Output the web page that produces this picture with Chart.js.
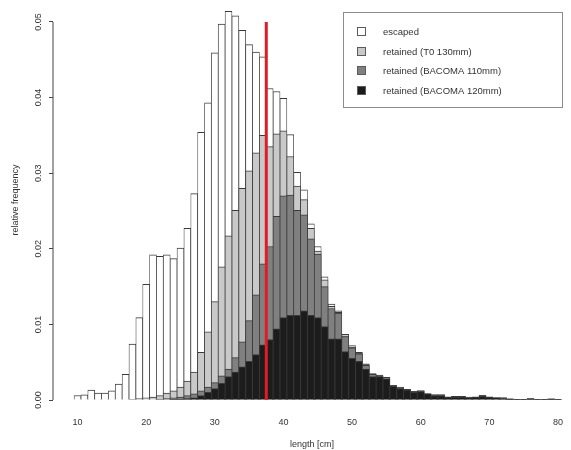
<!DOCTYPE html>
<html>
<head>
<meta charset="utf-8">
<title>length distribution</title>
<script src="https://cdn.jsdelivr.net/npm/chart.js@4.4.1/dist/chart.umd.min.js"></script>
<style>
    body { margin: 0; background: #ffffff; }
    #grafico { display: block; }
</style>
</head>
<body>
<canvas id="grafico" width="571" height="450"></canvas>
<script>
// classi di lunghezza (cm), una barra per classe
var lunghezze = [10, 11, 12, 13, 14, 15, 16, 17, 18, 19,
    20, 21, 22, 23, 24, 25, 26, 27, 28, 29,
    30, 31, 32, 33, 34, 35, 36, 37, 38, 39,
    40, 41, 42, 43, 44, 45, 46, 47, 48, 49,
    50, 51, 52, 53, 54, 55, 56, 57, 58, 59,
    60, 61, 62, 63, 64, 65, 66, 67, 68, 69,
    70, 71, 72, 73, 74, 75, 76, 77, 78, 79, 80];

var escaped = [0.0006, 0.0007, 0.0013, 0.0009, 0.0009, 0.0012, 0.0021, 0.0034, 0.0074, 0.0109,
    0.0153, 0.0192, 0.0190, 0.0192, 0.0187, 0.0201, 0.0227, 0.0273, 0.0354, 0.0393,
    0.0459, 0.0497, 0.0514, 0.0508, 0.0489, 0.0470, 0.0460, 0.0454, 0.0412, 0.0408,
    0.0399, 0.0351, 0.0301, 0.0278, 0.0233, 0.0203, 0.0163, 0.0127, 0.0118, 0.0087,
    0.0072, 0.0063, 0.0048, 0.0035, 0.0033, 0.0030, 0.0019, 0.0017, 0.0014, 0.0011,
    0.0012, 0.0008, 0.0007, 0.0007, 0.0004, 0.0005, 0.0005, 0.0004, 0.0004, 0.0006,
    0.0004, 0.0003, 0.0003, 0.0002, 0.0001, 0.0001, 0.0002, 0.0001, 0.0001, 0.0002, 0.0001];

var retainedT0 = [0, 0, 0, 0, 0, 0, 0, 0, 0.0001, 0.0002,
    0.0003, 0.0004, 0.0006, 0.0009, 0.0012, 0.0017, 0.0025, 0.0037, 0.0063, 0.0090,
    0.0130, 0.0176, 0.0217, 0.0251, 0.0280, 0.0303, 0.0327, 0.0350, 0.0335, 0.0352,
    0.0356, 0.0322, 0.0283, 0.0265, 0.0227, 0.0197, 0.0159, 0.0124, 0.0116, 0.0085,
    0.0070, 0.0062, 0.0047, 0.0034, 0.0032, 0.0030, 0.0019, 0.0016, 0.0014, 0.0011,
    0.0012, 0.0008, 0.0007, 0.0007, 0.0004, 0.0005, 0.0005, 0.0003, 0.0004, 0.0006,
    0.0004, 0.0003, 0.0003, 0.0001, 0.0001, 0.0001, 0.0002, 0.0001, 0.0001, 0.0001, 0.0001];

var retainedB110 = [0, 0, 0, 0, 0, 0, 0, 0, 0, 0,
    0, 0, 0.0001, 0.0002, 0.0003, 0.0004, 0.0006, 0.0008, 0.0012, 0.0017,
    0.0023, 0.0032, 0.0041, 0.0056, 0.0077, 0.0105, 0.0139, 0.0180, 0.0203, 0.0243,
    0.0270, 0.0271, 0.0251, 0.0245, 0.0213, 0.0193, 0.0150, 0.0121, 0.0115, 0.0084,
    0.0069, 0.0061, 0.0046, 0.0034, 0.0032, 0.0030, 0.0019, 0.0016, 0.0014, 0.0011,
    0.0012, 0.0008, 0.0007, 0.0007, 0.0004, 0.0005, 0.0005, 0.0003, 0.0004, 0.0006,
    0.0004, 0.0003, 0.0003, 0.0001, 0.0001, 0.0001, 0.0002, 0.0001, 0.0001, 0.0001, 0.0001];

var retainedB120 = [0, 0, 0, 0, 0, 0, 0, 0, 0, 0,
    0, 0, 0, 0, 0.0001, 0.0001, 0.0002, 0.0003, 0.0006, 0.0010,
    0.0015, 0.0022, 0.0031, 0.0037, 0.0044, 0.0051, 0.0060, 0.0073, 0.0080, 0.0094,
    0.0109, 0.0112, 0.0112, 0.0118, 0.0112, 0.0109, 0.0097, 0.0081, 0.0081, 0.0064,
    0.0055, 0.0051, 0.0041, 0.0031, 0.0031, 0.0028, 0.0018, 0.0015, 0.0013, 0.0010,
    0.0011, 0.0008, 0.0006, 0.0006, 0.0004, 0.0004, 0.0004, 0.0003, 0.0004, 0.0005,
    0.0004, 0.0003, 0.0002, 0.0001, 0.0001, 0.0001, 0.0001, 0.0001, 0.0001, 0.0001, 0.0001];

// linea rossa (taglia di riferimento)
var soglia = 37.5;
var sogliaAltezza = [0, 0.05];

var xTicks = [10, 20, 30, 40, 50, 60, 70, 80];
var yTicks = [0, 0.01, 0.02, 0.03, 0.04, 0.05];

function punti(valori) {
    var out = [];
    for (var i = 0; i < lunghezze.length; i++) {
        out.push({ x: lunghezze[i], y: valori[i] });
    }
    return out;
}

var bordo = { top: 1, left: 0.75, right: 0.75, bottom: 0 };

function serie(nome, valori, colore, ordine) {
    return {
        label: nome,
        data: punti(valori),
        backgroundColor: colore,
        borderColor: '#3a3a3a',
        borderWidth: bordo,
        borderSkipped: false,
        grouped: false,
        barPercentage: 1,
        categoryPercentage: 1,
        order: ordine
    };
}

// legenda in alto a destra dentro il grafico
var legendaBox = {
    id: 'legendaBox',
    afterDraw: function (chart) {
        var ctx = chart.ctx;
        ctx.save();
        ctx.strokeStyle = '#8c8c8c';
        ctx.lineWidth = 1;
        ctx.strokeRect(343.5, 12.5, 219, 95);
        ctx.font = '9.5px "Liberation Sans", Arial, sans-serif';
        ctx.textBaseline = 'middle';
        var barre = chart.data.datasets.filter(function (d) { return d.type !== 'line'; });
        for (var i = 0; i < barre.length; i++) {
            var y = Math.round(32 + i * 19.5);
            ctx.fillStyle = barre[i].backgroundColor;
            ctx.fillRect(357.5, y - 4.5, 8, 8);
            ctx.strokeStyle = '#5a5a5a';
            ctx.strokeRect(357.5, y - 4.5, 8, 8);
            ctx.fillStyle = '#333333';
            ctx.fillText(barre[i].label, 383, y);
        }
        ctx.restore();
    }
};

// asse y solo tra la prima e l'ultima tacca, come in R
var asseY = {
    id: 'asseY',
    afterDraw: function (chart) {
        var ctx = chart.ctx;
        var scala = chart.scales.y;
        var x = chart.chartArea.left;
        ctx.save();
        ctx.strokeStyle = '#444444';
        ctx.lineWidth = 1;
        ctx.beginPath();
        ctx.moveTo(x, scala.getPixelForValue(yTicks[0]));
        ctx.lineTo(x, scala.getPixelForValue(yTicks[yTicks.length - 1]));
        ctx.stroke();
        ctx.restore();
    }
};

Chart.defaults.font.family = '"Liberation Sans", Arial, sans-serif';
Chart.defaults.color = '#333333';

var ctx = document.getElementById('grafico');
var chart = new Chart(ctx, {
    type: 'bar',
    data: {
        datasets: [
            serie('escaped', escaped, '#ffffff', 4),
            serie('retained (T0 130mm)', retainedT0, '#c9c9c9', 3),
            serie('retained (BACOMA 110mm)', retainedB110, '#808080', 2),
            serie('retained (BACOMA 120mm)', retainedB120, '#1c1c1c', 1),
            {
                type: 'line',
                label: 'soglia',
                data: [{ x: soglia, y: sogliaAltezza[0] }, { x: soglia, y: sogliaAltezza[1] }],
                borderColor: '#dc1e26',
                borderWidth: 3,
                borderCapStyle: 'butt',
                pointRadius: 0,
                fill: false,
                order: 0
            }
        ]
    },
    options: {
        responsive: false,
        animation: false,
        layout: { padding: 0 },
        plugins: {
            legend: { display: false },
            tooltip: { enabled: false }
        },
        scales: {
            x: {
                type: 'linear',
                min: 6.43,
                max: 81.89,
                offset: false,
                grid: { display: false, drawTicks: false },
                border: { display: false },
                afterBuildTicks: function (axis) {
                    axis.ticks = xTicks.map(function (v) { return { value: v }; });
                },
                afterFit: function (axis) {
                    axis.height = 50;
                    axis.paddingLeft = 0;
                    axis.paddingRight = 0;
                },
                ticks: { padding: 17, font: { size: 9 } },
                title: {
                    display: true,
                    text: 'length [cm]',
                    font: { size: 9 },
                    padding: { top: 0, bottom: 0 }
                }
            },
            y: {
                type: 'linear',
                min: 0,
                max: 0.0529,
                grid: { drawOnChartArea: false, drawTicks: true, tickLength: 4, color: '#444444' },
                border: { display: false },
                afterBuildTicks: function (axis) {
                    axis.ticks = yTicks.map(function (v) { return { value: v }; });
                },
                afterFit: function (axis) {
                    axis.width = 53;
                    axis.paddingTop = 0;
                    axis.paddingBottom = 0;
                },
                ticks: {
                    minRotation: 90,
                    maxRotation: 90,
                    crossAlign: 'center',
                    padding: 2,
                    font: { size: 9 },
                    callback: function (v) { return Number(v).toFixed(2); }
                },
                title: {
                    display: true,
                    text: 'relative frequency',
                    font: { size: 9 },
                    padding: { top: 10, bottom: 0 }
                }
            }
        }
    },
    plugins: [legendaBox, asseY]
});
</script>
</body>
</html>
